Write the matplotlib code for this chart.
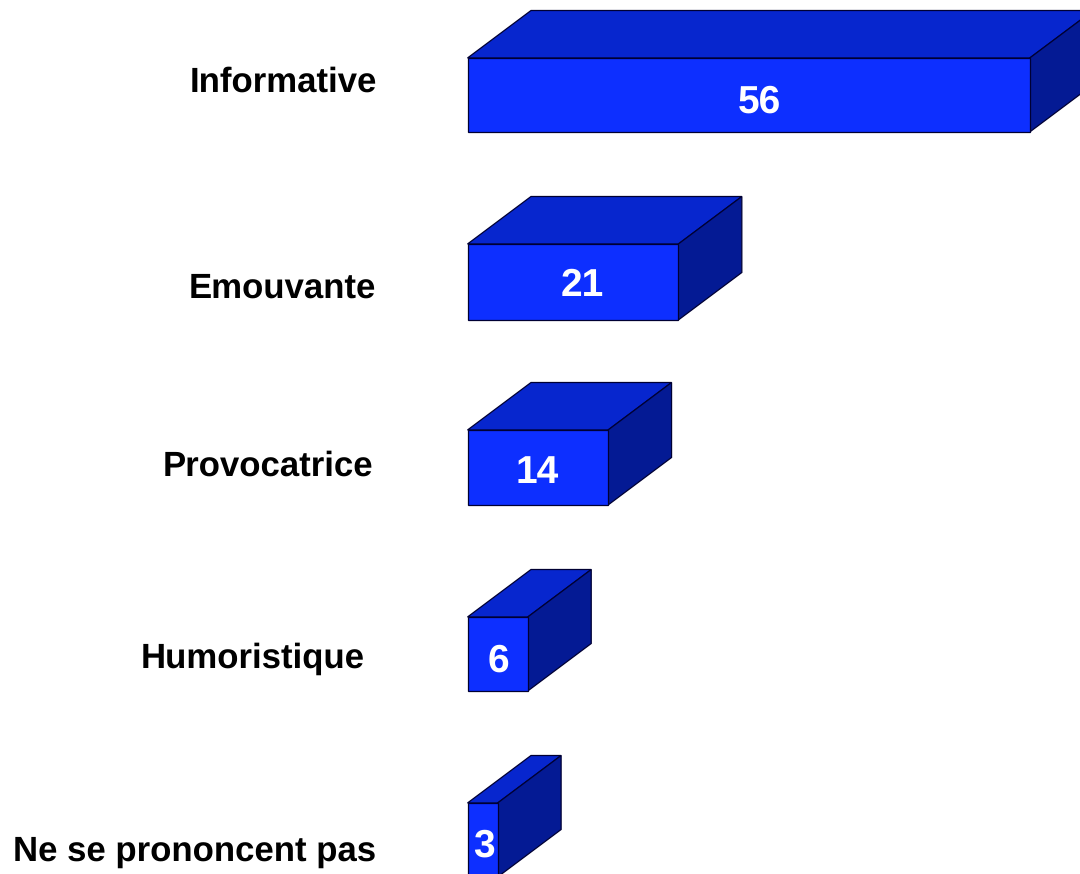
import matplotlib
matplotlib.use("Agg")
import matplotlib.pyplot as plt
from matplotlib.patches import Polygon

categories = ["Informative", "Emouvante", "Provocatrice", "Humoristique", "Ne se prononcent pas"]
values = [56, 21, 14, 6, 3]

# label right edges / baselines differ per row in the original
label_x = [377, 376.5, 373.5, 364.5, 376.5]
label_y = [79, 285, 463, 655, 848]
value_x = [759.5, 582, 537.5, 498, 484]
value_y = [98, 282, 469, 657, 842]
bar_top = [58, 244, 430, 617, 803]
bar_bottom = [132, 320, 505, 691, 877]

x0 = 467.5
px_per_unit = 10.04
dx, dy = 63.5, 47.5

front_col = "#0d2fff"
top_col = "#0726ce"
side_col = "#041a94"

plt.rcParams["font.family"] = ["Liberation Sans", "DejaVu Sans"]
plt.rcParams["text.hinting"] = "no_hinting"
plt.rcParams["text.hinting_factor"] = 8

fig = plt.figure(figsize=(10.8, 8.74), dpi=100)
ax = fig.add_axes([0, 0, 1, 1])
ax.set_xlim(0, 1080)
ax.set_ylim(874, 0)
ax.axis("off")

for i, v in enumerate(values):
    x1 = x0 + v * px_per_unit
    t, b = bar_top[i], bar_bottom[i]
    ax.add_patch(Polygon([(x0, t), (x0 + dx, t - dy), (x1 + dx, t - dy), (x1, t)],
                         fc=top_col, ec="#000033", lw=0.9))
    ax.add_patch(Polygon([(x1, t), (x1 + dx, t - dy), (x1 + dx, b - dy), (x1, b)],
                         fc=side_col, ec="#000033", lw=0.9))
    ax.add_patch(Polygon([(x0, t), (x1, t), (x1, b), (x0, b)],
                         fc=front_col, ec="#000033", lw=0.9))
    ax.text(value_x[i], value_y[i], str(v), color="white", fontsize=28,
            fontweight="bold", ha="center", va="center_baseline")
    ax.text(label_x[i], label_y[i], categories[i], color="black", fontsize=25,
            fontweight="bold", ha="right", va="center_baseline")

fig.savefig("out.png", dpi=100)
